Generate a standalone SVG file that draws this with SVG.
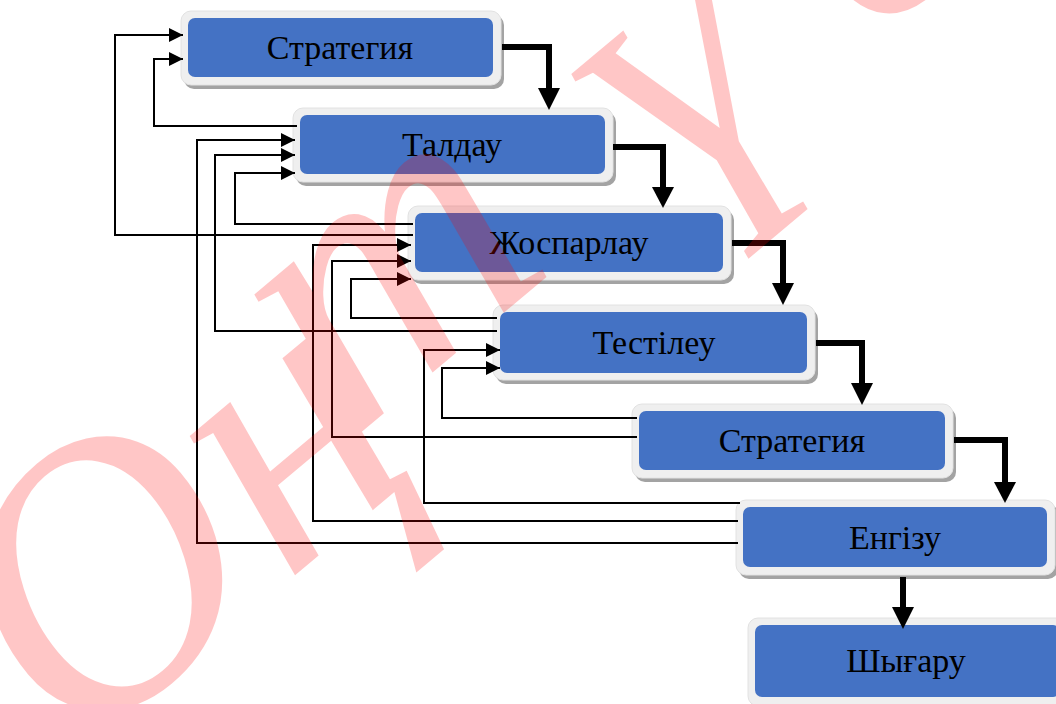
<svg xmlns="http://www.w3.org/2000/svg" width="1056" height="704" viewBox="0 0 1056 704">
<defs>
<style>
.sh{fill:#a3a3a3}
.out{fill:#efefef;stroke:#e2e2e2;stroke-width:1}
.blue{fill:#4472c4}
.lbl{font-family:"Liberation Serif","Times New Roman",serif;font-size:34px;fill:#000;text-anchor:middle}
.thin{fill:none;stroke:#000;stroke-width:2;marker-end:url(#ah)}
.thick{fill:none;stroke:#000;stroke-width:6}
.head{fill:#000}
.wm{font-family:"Liberation Serif","Times New Roman",serif;font-style:italic;font-size:380px;fill:#ff0000}
</style>
<marker id="ah" markerWidth="14" markerHeight="14" refX="14" refY="7" orient="auto" markerUnits="userSpaceOnUse">
<path d="M0,0 L14,7 L0,14 z" fill="#000"/>
</marker>
</defs>
<rect width="1056" height="704" fill="#fff"/>

<g id="n1">
<rect class="sh" x="184" y="15" width="320" height="74" rx="10"/>
<rect class="out" x="181" y="11" width="320" height="74" rx="10"/>
<rect class="blue" x="188" y="18" width="305" height="59" rx="7"/>
<text class="lbl" x="340" y="59">Стратегия</text>
</g>
<g id="n2">
<rect class="sh" x="296" y="112" width="320" height="74" rx="10"/>
<rect class="out" x="293" y="108" width="320" height="74" rx="10"/>
<rect class="blue" x="300" y="115" width="305" height="59" rx="7"/>
<text class="lbl" x="452" y="156">Талдау</text>
</g>
<g id="n3">
<rect class="sh" x="411" y="210" width="323" height="74" rx="10"/>
<rect class="out" x="408" y="206" width="323" height="74" rx="10"/>
<rect class="blue" x="415" y="213" width="308" height="59" rx="7"/>
<text class="lbl" x="569" y="254">Жоспарлау</text>
</g>
<g id="n4">
<rect class="sh" x="496" y="309" width="322" height="75" rx="10"/>
<rect class="out" x="493" y="305" width="322" height="75" rx="10"/>
<rect class="blue" x="500" y="312" width="307" height="61" rx="7"/>
<text class="lbl" x="654" y="354">Тестілеу</text>
</g>
<g id="n5">
<rect class="sh" x="635" y="408" width="321" height="74" rx="10"/>
<rect class="out" x="632" y="404" width="321" height="74" rx="10"/>
<rect class="blue" x="639" y="411" width="306" height="59" rx="7"/>
<text class="lbl" x="792" y="452">Стратегия</text>
</g>
<g id="n6">
<rect class="sh" x="739" y="504" width="319" height="75" rx="10"/>
<rect class="out" x="736" y="500" width="319" height="75" rx="10"/>
<rect class="blue" x="743" y="507" width="304" height="60" rx="7"/>
<text class="lbl" x="895" y="549">Енгізу</text>
</g>
<g id="n7">
<rect class="sh" x="751" y="622" width="320" height="88" rx="10"/>
<rect class="out" x="748" y="618" width="320" height="88" rx="10"/>
<rect class="blue" x="755" y="625" width="305" height="72" rx="7"/>
<text class="lbl" x="906" y="672">Шығару</text>
</g>

<g id="connectors">
<path class="thick" d="M502,47 H549 V90"/>
<polygon class="head" points="538,88 560,88 549,110"/>
<path class="thick" d="M613,147 H663 V189"/>
<polygon class="head" points="652,187 674,187 663,208"/>
<path class="thick" d="M732,243 H783 V285"/>
<polygon class="head" points="772,283 794,283 783,305"/>
<path class="thick" d="M816,343 H862 V385"/>
<polygon class="head" points="851,383 873,383 862,405"/>
<path class="thick" d="M954,440 H1005 V484"/>
<polygon class="head" points="994,482 1016,482 1005,503"/>
<path class="thick" d="M903,577 V609"/>
<polygon class="head" points="892,607 914,607 903,629"/>

<path class="thin" d="M413,235 H115 V35 H183"/>
<path class="thin" d="M297,126 H154 V59 H183"/>
<path class="thin" d="M738,543 H197 V140 H295"/>
<path class="thin" d="M497,331 H215 V155 H295"/>
<path class="thin" d="M413,224 H235 V173 H295"/>
<path class="thin" d="M738,521 H313 V245 H411"/>
<path class="thin" d="M637,437 H332 V261 H411"/>
<path class="thin" d="M497,318 H351 V279 H411"/>
<path class="thin" d="M740,503 H424 V350 H500"/>
<path class="thin" d="M637,418 H442 V368 H500"/>
</g>

<g id="watermark" opacity="0.22">
<text class="wm" transform="translate(75,760) rotate(-40)">Оң<tspan dx="-48" dy="-67">т</tspan><tspan dx="117" dy="35">ү</tspan><tspan dx="75" dy="-7">стік</tspan></text>
</g>
</svg>
